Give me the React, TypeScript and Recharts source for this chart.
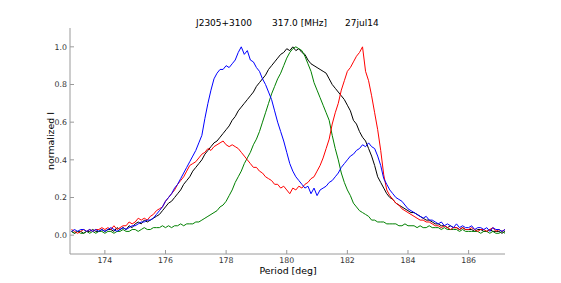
import { LineChart, Line, XAxis, YAxis } from "recharts";

// Normalised profiles sampled every 0.1 deg, 172.9 .. 187.2
const periods = Array.from({ length: 144 }, (_, i) => +(172.9 + i * 0.1).toFixed(1));

const blueI = [
  0.02, 0.03, 0.02, 0.03, 0.03, 0.02, 0.03, 0.02, 0.03, 0.02, 0.03,
  0.02, 0.03, 0.04, 0.03, 0.02, 0.03, 0.04, 0.03, 0.04, 0.05,
  0.05, 0.06, 0.07, 0.07, 0.08, 0.08, 0.09, 0.11, 0.13, 0.15,
  0.18, 0.2, 0.22, 0.25, 0.27, 0.3, 0.33, 0.36, 0.39, 0.42,
  0.45, 0.49, 0.53, 0.62, 0.7, 0.77, 0.83, 0.86, 0.88, 0.88,
  0.9, 0.89, 0.91, 0.93, 0.97, 1.0, 0.96, 0.98, 0.93, 0.92,
  0.89, 0.87, 0.83, 0.8, 0.76, 0.72, 0.66, 0.6, 0.55, 0.5,
  0.44, 0.38, 0.34, 0.31, 0.29, 0.27, 0.25, 0.26, 0.22, 0.25,
  0.21, 0.24, 0.25, 0.26, 0.28, 0.29, 0.31, 0.33, 0.36, 0.38,
  0.4, 0.42, 0.43, 0.45, 0.46, 0.48, 0.47, 0.49, 0.47, 0.46,
  0.42, 0.37, 0.3, 0.27, 0.24, 0.22, 0.2, 0.19, 0.18, 0.16,
  0.14, 0.13, 0.12, 0.11, 0.1, 0.09, 0.1, 0.08, 0.08, 0.07,
  0.06, 0.07, 0.05, 0.06, 0.05, 0.04, 0.06, 0.04, 0.05, 0.04,
  0.04, 0.05, 0.03, 0.04, 0.04, 0.03, 0.04, 0.02, 0.04, 0.03,
  0.03, 0.02, 0.03,
];

const blackI = [
  0.02, 0.01, 0.02, 0.02, 0.01, 0.02, 0.02, 0.03, 0.02, 0.02, 0.03,
  0.02, 0.03, 0.03, 0.02, 0.04, 0.03, 0.04, 0.03, 0.05, 0.04,
  0.06, 0.07, 0.06, 0.08, 0.07, 0.08, 0.09, 0.1, 0.11, 0.13,
  0.15, 0.17, 0.18, 0.2, 0.22, 0.24, 0.27, 0.29, 0.31, 0.34,
  0.36, 0.38, 0.4, 0.43, 0.45, 0.47, 0.49, 0.5, 0.52, 0.54,
  0.56, 0.58, 0.61, 0.63, 0.66, 0.68, 0.7, 0.72, 0.74, 0.76,
  0.79, 0.81, 0.83, 0.85, 0.88, 0.9, 0.92, 0.94, 0.96, 0.97,
  0.99, 0.98, 1.0, 0.98, 0.99, 0.97, 0.96, 0.93, 0.91, 0.9,
  0.89, 0.88, 0.87, 0.86, 0.83, 0.8, 0.78, 0.76, 0.74, 0.72,
  0.69, 0.66, 0.61, 0.59, 0.55, 0.52, 0.5, 0.46, 0.42, 0.37,
  0.31, 0.28, 0.25, 0.22, 0.2, 0.19, 0.17, 0.16, 0.15, 0.14,
  0.13, 0.12, 0.12, 0.11, 0.1, 0.09, 0.08, 0.08, 0.07, 0.06,
  0.06, 0.05, 0.05, 0.04, 0.05, 0.04, 0.04, 0.03, 0.04, 0.03,
  0.03, 0.03, 0.02, 0.03, 0.03, 0.02, 0.02, 0.03, 0.02, 0.02,
  0.02, 0.01, 0.02,
];

const greenI = [
  0.02, 0.01, 0.02, 0.01, 0.01, 0.02, 0.01, 0.02, 0.01, 0.02, 0.02,
  0.01, 0.02, 0.02, 0.01, 0.02, 0.02, 0.03, 0.02, 0.02, 0.03,
  0.03, 0.02, 0.03, 0.04, 0.03, 0.03, 0.04, 0.04, 0.04, 0.05,
  0.04, 0.05, 0.04, 0.05, 0.05, 0.06, 0.05, 0.06, 0.06, 0.06,
  0.07, 0.07, 0.08, 0.09, 0.1, 0.11, 0.12, 0.13, 0.15, 0.16,
  0.18, 0.21, 0.24, 0.28, 0.31, 0.34, 0.38, 0.41, 0.44, 0.48,
  0.51, 0.55, 0.6, 0.65, 0.7, 0.75, 0.79, 0.83, 0.86, 0.9,
  0.94, 0.97, 0.99, 1.0, 0.99, 0.98, 0.95, 0.91, 0.87, 0.81,
  0.77, 0.73, 0.69, 0.65, 0.61, 0.53, 0.46, 0.4, 0.33, 0.28,
  0.24, 0.21, 0.17, 0.15, 0.13, 0.12, 0.11, 0.1, 0.08, 0.08,
  0.07, 0.07, 0.07, 0.06, 0.06, 0.06, 0.06, 0.05, 0.05, 0.06,
  0.05, 0.05, 0.05, 0.04, 0.05, 0.04, 0.04, 0.05, 0.04, 0.04,
  0.04, 0.03, 0.04, 0.03, 0.03, 0.03, 0.03, 0.02, 0.03, 0.02,
  0.02, 0.02, 0.02, 0.02, 0.01, 0.02, 0.02, 0.01, 0.02, 0.01,
  0.01, 0.02, 0.01,
];

const redI = [
  0.03, 0.02, 0.01, 0.02, 0.03, 0.02, 0.03, 0.02, 0.03, 0.03, 0.04,
  0.03, 0.04, 0.03, 0.05, 0.03, 0.04, 0.05, 0.05, 0.07, 0.06,
  0.07, 0.09, 0.08, 0.09, 0.08, 0.1, 0.11, 0.13, 0.14, 0.15,
  0.18, 0.2, 0.22, 0.24, 0.27, 0.29, 0.31, 0.34, 0.37, 0.38,
  0.39, 0.41, 0.43, 0.44, 0.46, 0.45, 0.47, 0.48, 0.49, 0.5,
  0.48, 0.47, 0.48, 0.47, 0.46, 0.44, 0.42, 0.4, 0.38, 0.36,
  0.36, 0.34, 0.33, 0.31, 0.3, 0.29, 0.27, 0.27, 0.25, 0.26,
  0.24, 0.22, 0.25, 0.24, 0.26, 0.25, 0.27, 0.28, 0.3, 0.31,
  0.34, 0.37, 0.41, 0.46, 0.51, 0.59, 0.65, 0.7, 0.77, 0.82,
  0.87, 0.89, 0.92, 0.95, 0.97, 1.0, 0.87, 0.82, 0.74, 0.65,
  0.56, 0.45, 0.32, 0.24, 0.21, 0.19, 0.17, 0.16, 0.14, 0.13,
  0.12, 0.11, 0.1, 0.09, 0.08, 0.08, 0.07, 0.07, 0.06, 0.05,
  0.05, 0.04, 0.05, 0.04, 0.03, 0.04, 0.04, 0.03, 0.04, 0.03,
  0.03, 0.04, 0.03, 0.02, 0.03, 0.03, 0.02, 0.03, 0.04, 0.02,
  0.03, 0.02, 0.03,
];

const xTicks = [174, 176, 178, 180, 182, 184, 186];
const yTicks = [0, 0.2, 0.4, 0.6, 0.8, 1.0];
const xDomain = [172.85, 187.2];
const yDomain = [-0.1, 1.1];

const SERIES = [
  { key: "black", color: "#000000" },
  { key: "green", color: "#008000" },
  { key: "red", color: "#ff0000" },
  { key: "blue", color: "#0000ff" },
];

const rows = periods.map((p, i) => ({
  period: p,
  blue: blueI[i],
  black: blackI[i],
  green: greenI[i],
  red: redI[i],
}));

const FONT = "'DejaVu Sans', sans-serif";
const FRAME = "#9a9a9a";
const tickStyle = { fontSize: 7.8, fill: "#333", fontFamily: FONT };

export default function App() {
  return (
    <div style={{ position: "absolute", left: 0, top: 0, width: 561, height: 283, background: "#fff" }}>
      <LineChart width={561} height={283} data={rows} margin={{ top: 28, right: 56, bottom: 0, left: 0 }}>
        <XAxis
          dataKey="period"
          type="number"
          domain={xDomain}
          ticks={xTicks}
          allowDataOverflow
          height={29}
          stroke={FRAME}
          tickSize={-4}
          tickMargin={7}
          tick={tickStyle}
        />
        <XAxis
          xAxisId="top"
          orientation="top"
          type="number"
          domain={xDomain}
          ticks={xTicks}
          allowDataOverflow
          height={0}
          mirror
          tick={false}
          tickSize={4}
          stroke={FRAME}
        />
        <YAxis
          type="number"
          domain={yDomain}
          ticks={yTicks}
          allowDataOverflow
          width={70}
          stroke={FRAME}
          tickSize={-4}
          tickMargin={7}
          tick={tickStyle}
          tickFormatter={(v) => Number(v).toFixed(1)}
        />
        <YAxis
          yAxisId="right"
          orientation="right"
          type="number"
          domain={yDomain}
          ticks={yTicks}
          allowDataOverflow
          width={0}
          mirror
          tick={false}
          tickSize={4}
          stroke={FRAME}
        />
        {SERIES.map((s) => (
          <Line
            key={s.key}
            dataKey={s.key}
            stroke={s.color}
            strokeWidth={1}
            dot={false}
            activeDot={false}
            type="linear"
            isAnimationActive={false}
          />
        ))}
      </LineChart>
      <svg
        width={561}
        height={283}
        style={{ position: "absolute", left: 0, top: 0, pointerEvents: "none" }}
        fontFamily={FONT}
      >
        <text x={196} y={26} fontSize={9} fill="#000">J2305+3100</text>
        <text x={272} y={26} fontSize={9} fill="#000">317.0 [MHz]</text>
        <text x={345} y={26} fontSize={9} fill="#000">27jul14</text>
        <text x={288} y={274} fontSize={9.4} textAnchor="middle" fill="#000">Period [deg]</text>
        <text x={54} y={141} fontSize={9.4} textAnchor="middle" fill="#000" transform="rotate(-90 54 141)">
          normalized I
        </text>
      </svg>
    </div>
  );
}
